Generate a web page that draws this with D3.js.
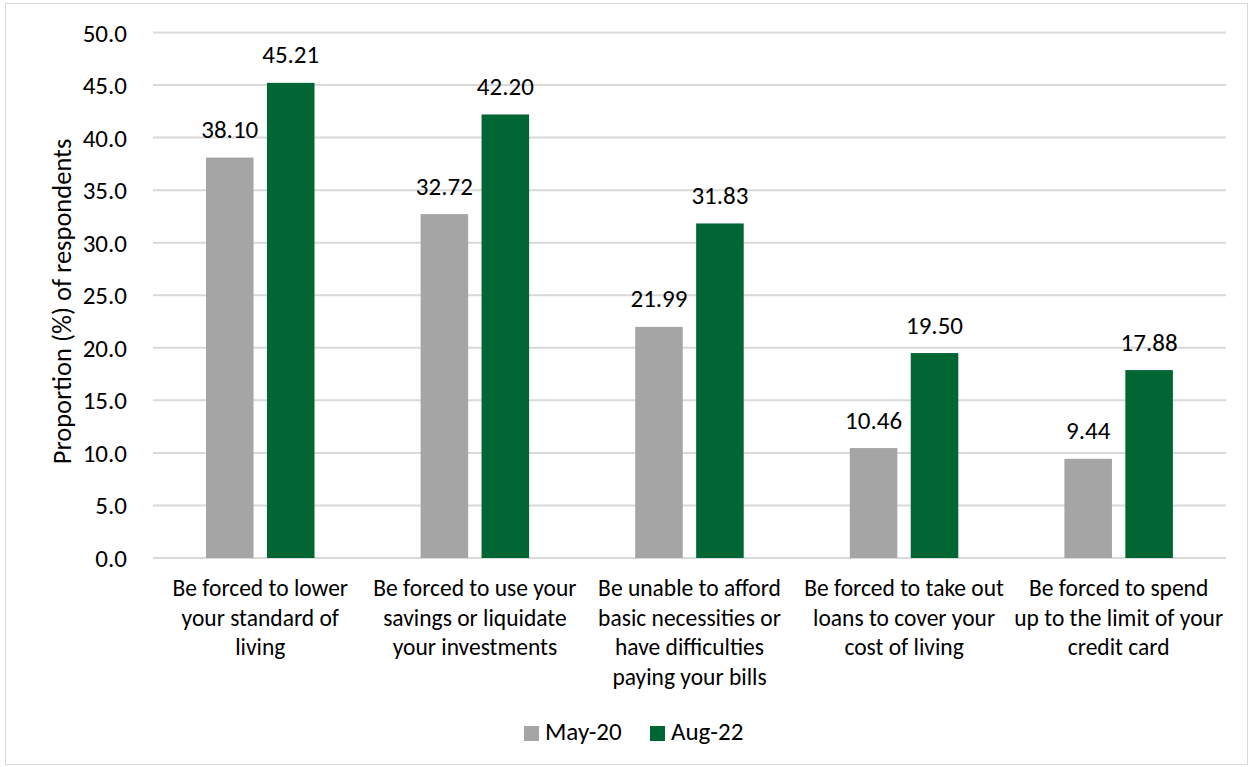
<!DOCTYPE html>
<html>
<head>
<meta charset="utf-8">
<script src="https://cdn.jsdelivr.net/npm/d3@7/dist/d3.min.js"></script>
<style>
  html, body { margin: 0; padding: 0; background: #fff; }
  svg { display: block; }
  text { font-family: Carlito, Calibri, Lato, "Open Sans", sans-serif; fill: #000; }
</style>
</head>
<body>
<svg id="chart" width="1253" height="767"></svg>
<script>
// Chart data
const categories = [
  ["Be forced to lower", "your standard of", "living"],
  ["Be forced to use your", "savings or liquidate", "your investments"],
  ["Be unable to afford", "basic necessities or", "have difficulties", "paying your bills"],
  ["Be forced to take out", "loans to cover your", "cost of living"],
  ["Be forced to spend", "up to the limit of your", "credit card"]
];
const seriesNames = ["May-20", "Aug-22"];
const may20 = [38.10, 32.72, 21.99, 10.46, 9.44];
const aug22 = [45.21, 42.20, 31.83, 19.50, 17.88];
const yTicks = [0, 5, 10, 15, 20, 25, 30, 35, 40, 45, 50];
const colors = ["#A5A5A5", "#006633"];

const svg = d3.select("#chart");
const W = 1253, H = 767;
const numSize = 25, textSize = 23.5;

// outer frame
svg.append("rect")
  .attr("x", 5.5).attr("y", 3.5)
  .attr("width", W - 11).attr("height", H - 6)
  .attr("fill", "#fff").attr("stroke", "#D9D9D9").attr("stroke-width", 1);

const plot = { left: 153, right: 1226, top: 32.5, bottom: 558 };

const x0 = d3.scaleBand()
  .domain(d3.range(categories.length))
  .range([plot.left, plot.right]);

const x1 = d3.scaleBand()
  .domain(seriesNames)
  .range([53, 161.5])
  .paddingInner(0.22);

const y = d3.scaleLinear().domain([0, 50]).range([plot.bottom, plot.top]);

// gridlines
svg.append("g")
  .selectAll("line")
  .data(yTicks)
  .join("line")
  .attr("x1", plot.left).attr("x2", plot.right)
  .attr("y1", d => y(d)).attr("y2", d => y(d))
  .attr("stroke", "#D9D9D9").attr("stroke-width", 2);

// y axis labels
const yAxis = d3.axisLeft(y).tickValues(yTicks).tickFormat(d3.format(".1f")).tickSize(0).tickPadding(26);
const ya = svg.append("g").attr("transform", `translate(${plot.left},0)`).call(yAxis);
ya.select(".domain").remove();
ya.attr("font-family", null).attr("font-size", null);
ya.selectAll("text").attr("font-size", numSize).attr("dy", "0.34em");

// y axis title
svg.append("text")
  .attr("transform", `translate(71,301.5) rotate(-90)`)
  .attr("text-anchor", "middle")
  .attr("font-size", 26.5)
  .text("Proportion (%) of respondents");

// bars
const rows = categories.map((c, i) => ({ i, values: [may20[i], aug22[i]] }));
const groups = svg.append("g").selectAll("g")
  .data(rows)
  .join("g")
  .attr("transform", d => `translate(${x0(d.i)},0)`);

groups.selectAll("rect")
  .data(d => d.values.map((v, k) => ({ k, v })))
  .join("rect")
  .attr("x", d => x1(seriesNames[d.k]))
  .attr("y", d => y(d.v))
  .attr("width", x1.bandwidth())
  .attr("height", d => y(0) - y(d.v))
  .attr("fill", d => colors[d.k]);

// value labels
groups.selectAll("text.val")
  .data(d => d.values.map((v, k) => ({ k, v })))
  .join("text")
  .attr("class", "val")
  .attr("x", d => x1(seriesNames[d.k]) + x1.bandwidth() / 2)
  .attr("y", d => y(d.v) - 19.5)
  .attr("text-anchor", "middle")
  .attr("font-size", numSize)
  .text(d => d.v.toFixed(2));

// category labels
svg.append("g").selectAll("text")
  .data(categories)
  .join("text")
  .attr("text-anchor", "middle")
  .attr("font-size", textSize)
  .attr("x", (d, i) => x0(i) + x0.bandwidth() / 2)
  .attr("y", 596)
  .each(function (lines) {
    d3.select(this).selectAll("tspan")
      .data(lines)
      .join("tspan")
      .attr("x", d3.select(this).attr("x"))
      .attr("dy", (l, j) => j === 0 ? 0 : 29.5)
      .text(l => l);
  });

// legend
const legend = svg.append("g");
const legendItems = [{ name: seriesNames[0], x: 524 }, { name: seriesNames[1], x: 650 }];
legendItems.forEach((it, k) => {
  legend.append("rect")
    .attr("x", it.x).attr("y", 726)
    .attr("width", 15).attr("height", 15)
    .attr("fill", colors[k]);
  legend.append("text")
    .attr("x", it.x + 21).attr("y", 740)
    .attr("font-size", numSize)
    .text(it.name);
});
</script>
</body>
</html>
